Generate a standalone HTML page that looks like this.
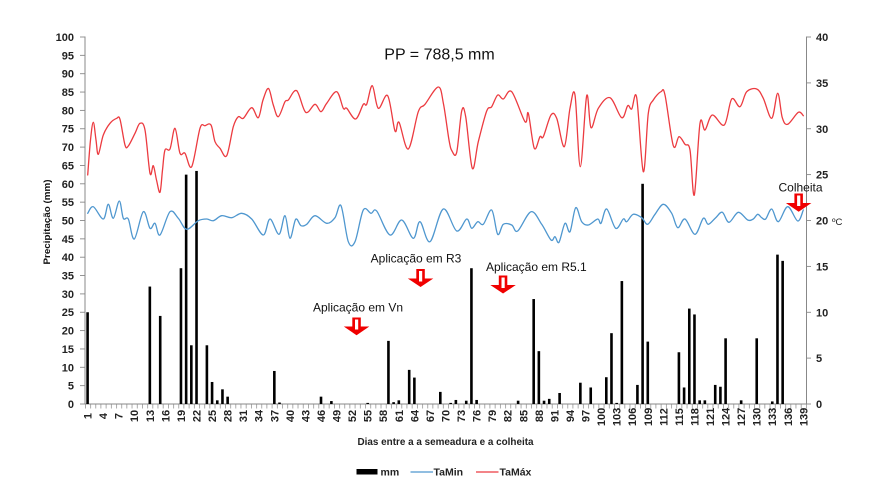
<!DOCTYPE html>
<html><head><meta charset="utf-8"><style>
html,body{margin:0;padding:0;background:#fff;}
svg{display:block;}
text{font-family:"Liberation Sans",Arial,sans-serif;}
</style></head><body>
<svg id="ch" width="883" height="488" viewBox="0 0 883 488" xmlns="http://www.w3.org/2000/svg">
<defs>
<pattern id="xt" x="85" y="404" width="5.187" height="5" patternUnits="userSpaceOnUse">
<line x1="0.3" y1="0" x2="0.3" y2="5" stroke="#888" stroke-width="0.8"/>
</pattern>
</defs>
<rect width="883" height="488" fill="#fff"/>

<text x="439.5" y="59.5" font-size="16" text-anchor="middle" fill="#111">PP = 788,5 mm</text>

<line x1="85" y1="36.5" x2="85" y2="404" stroke="#888" stroke-width="1"/>
<line x1="806.5" y1="36.5" x2="806.5" y2="404" stroke="#888" stroke-width="1"/>
<line x1="85" y1="404" x2="806.5" y2="404" stroke="#888" stroke-width="1"/>
<rect x="85" y="404" width="722" height="4.5" fill="url(#xt)"/>

<g stroke="#888" stroke-width="0.9">
<line x1="80" x2="85" y1="404" y2="404"/><line x1="80" x2="85" y1="385.65" y2="385.65"/>
<line x1="80" x2="85" y1="367.3" y2="367.3"/><line x1="80" x2="85" y1="348.95" y2="348.95"/>
<line x1="80" x2="85" y1="330.6" y2="330.6"/><line x1="80" x2="85" y1="312.25" y2="312.25"/>
<line x1="80" x2="85" y1="293.9" y2="293.9"/><line x1="80" x2="85" y1="275.55" y2="275.55"/>
<line x1="80" x2="85" y1="257.2" y2="257.2"/><line x1="80" x2="85" y1="238.85" y2="238.85"/>
<line x1="80" x2="85" y1="220.5" y2="220.5"/><line x1="80" x2="85" y1="202.15" y2="202.15"/>
<line x1="80" x2="85" y1="183.8" y2="183.8"/><line x1="80" x2="85" y1="165.45" y2="165.45"/>
<line x1="80" x2="85" y1="147.1" y2="147.1"/><line x1="80" x2="85" y1="128.75" y2="128.75"/>
<line x1="80" x2="85" y1="110.4" y2="110.4"/><line x1="80" x2="85" y1="92.05" y2="92.05"/>
<line x1="80" x2="85" y1="73.7" y2="73.7"/><line x1="80" x2="85" y1="55.35" y2="55.35"/>
<line x1="80" x2="85" y1="37" y2="37"/>
</g>
<g font-size="11" font-weight="bold" text-anchor="end" fill="#222">
<text x="74" y="408">0</text><text x="74" y="389.6">5</text><text x="74" y="371.3">10</text>
<text x="74" y="352.9">15</text><text x="74" y="334.6">20</text><text x="74" y="316.2">25</text>
<text x="74" y="297.9">30</text><text x="74" y="279.5">35</text><text x="74" y="261.2">40</text>
<text x="74" y="242.8">45</text><text x="74" y="224.5">50</text><text x="74" y="206.1">55</text>
<text x="74" y="187.8">60</text><text x="74" y="169.4">65</text><text x="74" y="151.1">70</text>
<text x="74" y="132.7">75</text><text x="74" y="114.4">80</text><text x="74" y="96">85</text>
<text x="74" y="77.7">90</text><text x="74" y="59.3">95</text><text x="74" y="41">100</text>
</g>
<text transform="translate(50,222) rotate(-90)" font-size="9.5" font-weight="bold" text-anchor="middle" fill="#111" textLength="85" lengthAdjust="spacingAndGlyphs">Precipitação  (mm)</text>

<g stroke="#888" stroke-width="0.9">
<line x1="806.5" x2="811" y1="404" y2="404"/><line x1="806.5" x2="811" y1="358.1" y2="358.1"/>
<line x1="806.5" x2="811" y1="312.3" y2="312.3"/><line x1="806.5" x2="811" y1="266.4" y2="266.4"/>
<line x1="806.5" x2="811" y1="220.5" y2="220.5"/><line x1="806.5" x2="811" y1="174.6" y2="174.6"/>
<line x1="806.5" x2="811" y1="128.75" y2="128.75"/><line x1="806.5" x2="811" y1="82.9" y2="82.9"/>
<line x1="806.5" x2="811" y1="37" y2="37"/>
</g>
<g font-size="11" font-weight="bold" fill="#222">
<text x="816" y="408">0</text><text x="816" y="362.1">5</text><text x="816" y="316.3">10</text>
<text x="816" y="270.4">15</text><text x="816" y="224.5">20</text><text x="816" y="178.6">25</text>
<text x="816" y="132.8">30</text><text x="816" y="86.9">35</text><text x="816" y="41">40</text>
</g>
<text x="832" y="225" font-size="9.5" fill="#222">ºC</text>

<g font-size="11" font-weight="bold" text-anchor="middle" fill="#222">
<text transform="translate(87.59,416) rotate(-90)" dy=".36em">1</text>
<text transform="translate(103.15,416) rotate(-90)" dy=".36em">4</text>
<text transform="translate(118.71,416) rotate(-90)" dy=".36em">7</text>
<text transform="translate(134.28,416) rotate(-90)" dy=".36em">10</text>
<text transform="translate(149.84,416) rotate(-90)" dy=".36em">13</text>
<text transform="translate(165.40,416) rotate(-90)" dy=".36em">16</text>
<text transform="translate(180.96,416) rotate(-90)" dy=".36em">19</text>
<text transform="translate(196.52,416) rotate(-90)" dy=".36em">22</text>
<text transform="translate(212.08,416) rotate(-90)" dy=".36em">25</text>
<text transform="translate(227.64,416) rotate(-90)" dy=".36em">28</text>
<text transform="translate(243.20,416) rotate(-90)" dy=".36em">31</text>
<text transform="translate(258.76,416) rotate(-90)" dy=".36em">34</text>
<text transform="translate(274.33,416) rotate(-90)" dy=".36em">37</text>
<text transform="translate(289.89,416) rotate(-90)" dy=".36em">40</text>
<text transform="translate(305.45,416) rotate(-90)" dy=".36em">43</text>
<text transform="translate(321.01,416) rotate(-90)" dy=".36em">46</text>
<text transform="translate(336.57,416) rotate(-90)" dy=".36em">49</text>
<text transform="translate(352.13,416) rotate(-90)" dy=".36em">52</text>
<text transform="translate(367.69,416) rotate(-90)" dy=".36em">55</text>
<text transform="translate(383.25,416) rotate(-90)" dy=".36em">58</text>
<text transform="translate(398.81,416) rotate(-90)" dy=".36em">61</text>
<text transform="translate(414.37,416) rotate(-90)" dy=".36em">64</text>
<text transform="translate(429.94,416) rotate(-90)" dy=".36em">67</text>
<text transform="translate(445.50,416) rotate(-90)" dy=".36em">70</text>
<text transform="translate(461.06,416) rotate(-90)" dy=".36em">73</text>
<text transform="translate(476.62,416) rotate(-90)" dy=".36em">76</text>
<text transform="translate(492.18,416) rotate(-90)" dy=".36em">79</text>
<text transform="translate(507.74,416) rotate(-90)" dy=".36em">82</text>
<text transform="translate(523.30,416) rotate(-90)" dy=".36em">85</text>
<text transform="translate(538.86,416) rotate(-90)" dy=".36em">88</text>
<text transform="translate(554.42,416) rotate(-90)" dy=".36em">91</text>
<text transform="translate(569.99,416) rotate(-90)" dy=".36em">94</text>
<text transform="translate(585.55,416) rotate(-90)" dy=".36em">97</text>
<text transform="translate(601.11,417) rotate(-90)" dy=".36em">100</text>
<text transform="translate(616.67,417) rotate(-90)" dy=".36em">103</text>
<text transform="translate(632.23,417) rotate(-90)" dy=".36em">106</text>
<text transform="translate(647.79,417) rotate(-90)" dy=".36em">109</text>
<text transform="translate(663.35,417) rotate(-90)" dy=".36em">112</text>
<text transform="translate(678.91,417) rotate(-90)" dy=".36em">115</text>
<text transform="translate(694.47,417) rotate(-90)" dy=".36em">118</text>
<text transform="translate(710.04,417) rotate(-90)" dy=".36em">121</text>
<text transform="translate(725.60,417) rotate(-90)" dy=".36em">124</text>
<text transform="translate(741.16,417) rotate(-90)" dy=".36em">127</text>
<text transform="translate(756.72,417) rotate(-90)" dy=".36em">130</text>
<text transform="translate(772.28,417) rotate(-90)" dy=".36em">133</text>
<text transform="translate(787.84,417) rotate(-90)" dy=".36em">136</text>
<text transform="translate(803.40,417) rotate(-90)" dy=".36em">139</text>
</g>
<text x="445.5" y="445" font-size="10" font-weight="bold" text-anchor="middle" fill="#222" textLength="176" lengthAdjust="spacingAndGlyphs">Dias  entre a a semeadura e a colheita</text>

<g fill="#000">
<rect x="86.29" y="312.25" width="2.6" height="91.75"/>
<rect x="148.54" y="286.56" width="2.6" height="117.44"/>
<rect x="158.91" y="315.92" width="2.6" height="88.08"/>
<rect x="179.66" y="268.21" width="2.6" height="135.79"/>
<rect x="184.85" y="174.63" width="2.6" height="229.37"/>
<rect x="190.03" y="345.28" width="2.6" height="58.72"/>
<rect x="195.22" y="170.95" width="2.6" height="233.05"/>
<rect x="205.59" y="345.28" width="2.6" height="58.72"/>
<rect x="210.78" y="381.98" width="2.6" height="22.02"/>
<rect x="215.97" y="400.33" width="2.6" height="3.67"/>
<rect x="221.16" y="389.32" width="2.6" height="14.68"/>
<rect x="226.34" y="396.66" width="2.6" height="7.34"/>
<rect x="273.03" y="370.97" width="2.6" height="33.03"/>
<rect x="278.21" y="402.53" width="2.6" height="1.47"/>
<rect x="319.71" y="396.66" width="2.6" height="7.34"/>
<rect x="330.08" y="401.06" width="2.6" height="2.94"/>
<rect x="366.39" y="402.9" width="2.6" height="1.1"/>
<rect x="387.14" y="340.88" width="2.6" height="63.12"/>
<rect x="392.32" y="402.16" width="2.6" height="1.84"/>
<rect x="397.51" y="400.33" width="2.6" height="3.67"/>
<rect x="407.89" y="369.87" width="2.6" height="34.13"/>
<rect x="413.07" y="377.58" width="2.6" height="26.42"/>
<rect x="439.01" y="391.89" width="2.6" height="12.11"/>
<rect x="449.38" y="402.9" width="2.6" height="1.1"/>
<rect x="454.57" y="399.96" width="2.6" height="4.04"/>
<rect x="464.94" y="400.7" width="2.6" height="3.3"/>
<rect x="470.13" y="268.21" width="2.6" height="135.79"/>
<rect x="475.32" y="399.96" width="2.6" height="4.04"/>
<rect x="516.82" y="400.7" width="2.6" height="3.3"/>
<rect x="532.38" y="299.04" width="2.6" height="104.96"/>
<rect x="537.56" y="351.15" width="2.6" height="52.85"/>
<rect x="542.75" y="400.7" width="2.6" height="3.3"/>
<rect x="547.94" y="398.86" width="2.6" height="5.14"/>
<rect x="558.31" y="392.99" width="2.6" height="11.01"/>
<rect x="579.06" y="382.71" width="2.6" height="21.29"/>
<rect x="589.43" y="387.48" width="2.6" height="16.52"/>
<rect x="605.0" y="377.21" width="2.6" height="26.79"/>
<rect x="610.18" y="333.17" width="2.6" height="70.83"/>
<rect x="615.37" y="402.9" width="2.6" height="1.1"/>
<rect x="620.56" y="281.05" width="2.6" height="122.95"/>
<rect x="636.12" y="384.92" width="2.6" height="19.08"/>
<rect x="641.3" y="183.8" width="2.6" height="220.2"/>
<rect x="646.49" y="341.61" width="2.6" height="62.39"/>
<rect x="677.61" y="352.25" width="2.6" height="51.75"/>
<rect x="682.8" y="387.48" width="2.6" height="16.52"/>
<rect x="687.99" y="308.58" width="2.6" height="95.42"/>
<rect x="693.17" y="314.45" width="2.6" height="89.55"/>
<rect x="698.36" y="400.33" width="2.6" height="3.67"/>
<rect x="703.55" y="400.33" width="2.6" height="3.67"/>
<rect x="713.92" y="384.92" width="2.6" height="19.08"/>
<rect x="719.11" y="386.75" width="2.6" height="17.25"/>
<rect x="724.3" y="338.31" width="2.6" height="65.69"/>
<rect x="739.86" y="400.33" width="2.6" height="3.67"/>
<rect x="755.42" y="338.31" width="2.6" height="65.69"/>
<rect x="770.98" y="401.43" width="2.6" height="2.57"/>
<rect x="776.17" y="254.63" width="2.6" height="149.37"/>
<rect x="781.35" y="260.87" width="2.6" height="143.13"/>
</g>

<polyline class="sm" fill="none" stroke="#EC3B40" stroke-width="1.3" stroke-linejoin="round" stroke-linecap="round" points="87.7,175 90.5,140 93.3,122.3 96,140 98.3,154.3 103.3,135 110,123.3 116.7,118.3 120,119.3 125,145 128.3,146 135,133.3 140,123.3 145,130 150,173.3 153.3,165.7 156.5,180 160,192.3 162.5,170 165,150 170,149 175,128.3 180,153.3 185,153.3 191.7,166.7 200,128.3 205,125.7 211,125 215,141.7 220,148.3 226.7,155.7 233.3,126.7 238.3,116.7 243.3,118.3 251.7,107.7 258.3,117.7 263,100 268.5,88.5 273.3,105 278.3,116.7 285,101.7 288.3,100 296.7,90.7 305.7,112.3 315,104.3 321,111.7 326.7,103.3 336.7,91.7 343.3,108.3 346.7,108.3 355.7,119 363.3,104.3 366.7,104.3 372.3,85.7 378.3,108.3 387.7,95.7 395,131 399,122.3 408.3,149 418.3,111.7 425,104.3 438.3,87 443.5,104 449,140 452,151 456.7,152.3 461.7,111 465.7,116.7 472.3,168.3 478.3,141.7 486.7,111 491.7,106.7 497.7,95 503.3,99 511.7,91.7 525,121.7 528.3,113.3 534.3,148.3 540,136.7 543.3,136.7 551,115 556.7,118.3 564.3,146.7 570,108.3 575,95 580.3,166.7 586.7,95.7 591,127.7 598.3,108.3 610,97.7 621.7,117.7 627.7,105.7 631.7,109 636.7,97.7 643.3,171.7 648.3,113.3 653.3,100 661,91.7 665,95 673.3,145.7 679,136.7 685,144.3 690,150 694.3,195 700,123.3 705,130 712.3,115 724.3,125 731.7,99 740,106.7 746.7,91.7 756.7,89 763.3,98.3 771.7,118.3 777.7,93.3 782.3,117.7 787.7,124.3 798.3,112.3 803.3,115.7"/>

<polyline class="sm" fill="none" stroke="#4F97CF" stroke-width="1.3" stroke-linejoin="round" stroke-linecap="round" points="87.7,213.3 93.3,206.7 103.3,219 108.3,204.3 113.3,218.3 119.3,201 123.3,218.3 128.3,219 134.3,239 143.3,211.7 150,228.3 155,223.3 160,235 170,211.7 178.3,218.3 186.7,229.3 198.3,220.7 206.7,219 213.3,220.7 221.7,215.7 231.7,217.7 241.7,213.3 251.7,219 263.3,235 270,219 279,234.3 285,215.7 290,238.3 295.7,219.3 301,225.7 306.7,224.3 315,215.7 326.7,223.3 335,217.7 341,205.7 348.3,241.7 355,241.7 363.3,210 371,213.3 376.7,211 390,235 401.7,220 413.3,238.3 420,221.7 430,241.7 443.3,209 456.7,231 466.7,219 471.7,228.3 477.7,221.7 483.3,224.3 491.7,210 497.7,234.3 503.3,224.3 511.7,225 517.7,231 531,211.7 541.7,224.3 551,240 555,236.7 559,242.3 565,223.3 570,231.7 575.7,207.7 581.7,221.7 588.3,225 597.7,219 601,223.3 606.7,209 615.7,228.3 623.3,219 626.7,221.7 633.3,214.3 641.7,217.7 647.7,224.3 655,214.3 663.3,204.3 671.7,213.3 677.7,227.7 685,219 695,234.3 703.3,218.3 708.3,224.3 715.7,217.7 722.3,212.3 729,222.3 738.3,212.3 747.7,220 753.3,219 757.7,214.3 761.7,217.7 765.7,219 771.7,209 778.3,221.7 787.7,206.7 797.7,221 803.3,210"/>

<g font-size="12" fill="#111">
<text x="358" y="311.5" text-anchor="middle">Aplicação em Vn</text>
<text x="416" y="262.5" text-anchor="middle">Aplicação em R3</text>
<text x="486" y="271">Aplicação em R5.1</text>
<text x="800.5" y="191.5" text-anchor="middle">Colheita</text>
</g>
<g fill="#F00000">
<path d="M352.3,317.5 h8.5 v9 h8.5 l-12.75,8.8 l-12.75,-8.8 h8.5 z"/>
<path d="M416.3,269 h8.5 v9.5 h8.5 l-12.75,8.5 l-12.75,-8.5 h8.5 z"/>
<path d="M498.8,275.5 h8.5 v9.5 h8.5 l-12.75,8.5 l-12.75,-8.5 h8.5 z"/>
<path d="M794.4,193.5 h8.5 v9.5 h8.5 l-12.75,8.8 l-12.75,-8.8 h8.5 z"/>
</g>
<g fill="#fff">
<rect x="355" y="319.5" width="3.2" height="10"/>
<rect x="419" y="271" width="3.2" height="10.5"/>
<rect x="501.5" y="277.5" width="3.2" height="10.5"/>
<rect x="797.1" y="195.5" width="3.2" height="10.5"/>
</g>

<rect x="356.5" y="469" width="21" height="5.5" fill="#000"/>
<text x="380.5" y="475.5" font-size="10.5" font-weight="bold" fill="#222">mm</text>
<line x1="410.5" y1="472" x2="433" y2="472" stroke="#4F97CF" stroke-width="1.3"/>
<text x="433.5" y="475.5" font-size="10.5" font-weight="bold" fill="#222">TaMin</text>
<line x1="476" y1="472" x2="498.5" y2="472" stroke="#EC3B40" stroke-width="1.3"/>
<text x="499.5" y="475.5" font-size="10.5" font-weight="bold" fill="#222">TaMáx</text>
</svg>
<script>
(function(){
  try{
    var ns="http://www.w3.org/2000/svg";
    var pls=document.querySelectorAll("polyline.sm");
    for(var k=0;k<pls.length;k++){
      var pl=pls[k];
      var raw=pl.getAttribute("points").trim().split(/\s+/);
      var p=raw.map(function(s){var a=s.split(",");return [parseFloat(a[0]),parseFloat(a[1])];});
      var d="M"+p[0][0]+","+p[0][1];
      for(var i=0;i<p.length-1;i++){
        var p0=p[i-1]||p[i],p1=p[i],p2=p[i+1],p3=p[i+2]||p2;
        var c1x=p1[0]+(p2[0]-p0[0])/6,c1y=p1[1]+(p2[1]-p0[1])/6;
        var c2x=p2[0]-(p3[0]-p1[0])/6,c2y=p2[1]-(p3[1]-p1[1])/6;
        d+=" C"+c1x.toFixed(2)+","+c1y.toFixed(2)+" "+c2x.toFixed(2)+","+c2y.toFixed(2)+" "+p2[0]+","+p2[1];
      }
      var path=document.createElementNS(ns,"path");
      path.setAttribute("d",d);
      path.setAttribute("fill","none");
      path.setAttribute("stroke",pl.getAttribute("stroke"));
      path.setAttribute("stroke-width","1.3");
      path.setAttribute("stroke-linejoin","round");
      path.setAttribute("stroke-linecap","round");
      pl.parentNode.insertBefore(path,pl);
      pl.parentNode.removeChild(pl);
    }
  }catch(e){}
})();
</script>
</body></html>
